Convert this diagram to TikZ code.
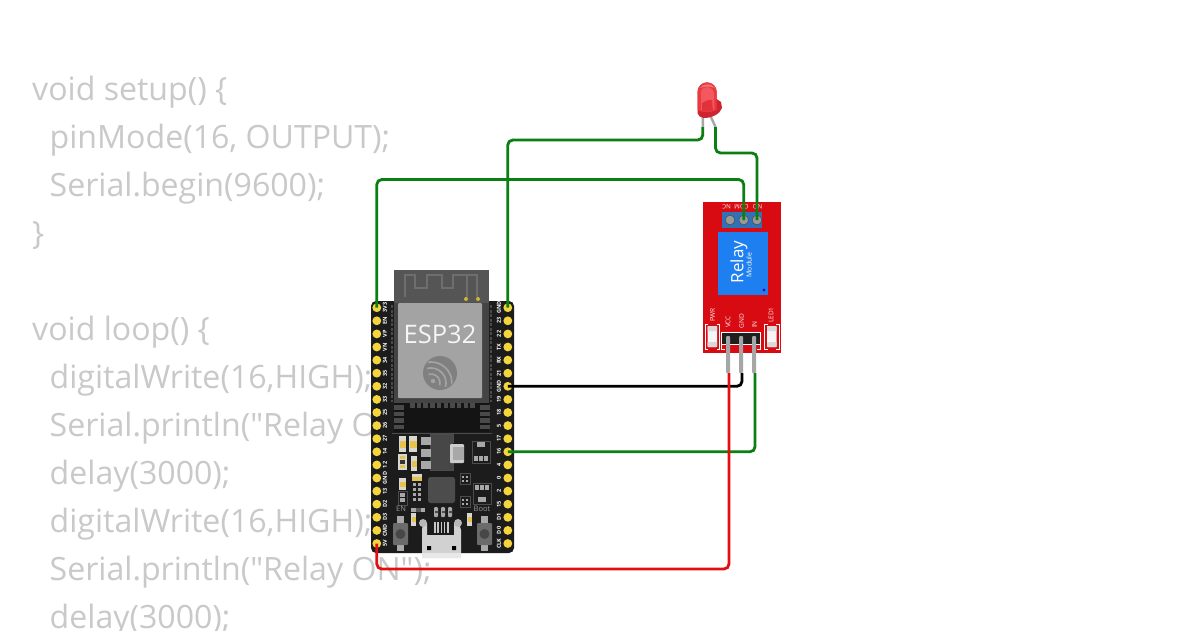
\documentclass[tikz,border=0pt]{standalone}
\usepackage{fontspec}
\setmainfont{Open Sans}
\newfontfamily\codefont{Open Sans}
\definecolor{codegray}{HTML}{C9C9C9}
\definecolor{wgreen}{HTML}{0A7F12}
\definecolor{wred}{HTML}{E01010}
\definecolor{pinyel}{HTML}{F4D63C}
\definecolor{relred}{HTML}{D80A12}
\definecolor{relblue}{HTML}{1E7FF0}
\definecolor{termblue}{HTML}{2F72B8}
\definecolor{brd}{HTML}{1C1C1C}
\definecolor{modout}{HTML}{555555}
\definecolor{metal}{HTML}{A3A3A3}
\definecolor{padgr}{HTML}{A8A8A8}
\definecolor{padd}{HTML}{4A4A4A}
\definecolor{smdy}{HTML}{E6C24E}
\definecolor{smdw}{HTML}{D8D8D0}
\definecolor{ledA}{HTML}{EA3A40}
\definecolor{ledB}{HTML}{F2585E}
\definecolor{ledC}{HTML}{CE2430}
\definecolor{ledD}{HTML}{E03238}
\newcommand{\fs}[1]{\fontsize{#1}{#1}\selectfont}
\tikzset{
  x=1pt,y=-1pt,
  code/.style={anchor=base west,inner sep=0pt,text=codegray,font=\codefont\fs{32.1}},
  pinlabel/.style={rotate=90,inner sep=0pt,text=white,font=\fs{5.5}\bfseries},
  rellabel/.style={rotate=90,inner sep=0pt,text=white!92!red,font=\fs{6.5}},
  wire/.style={line width=2.8pt,rounded corners=5pt},
}
% SMD part: white ends, yellow centre
\newcommand{\smdv}[4]{\fill[smdw] (#1,#2) rectangle (#3,#4);
  \fill[smdy] (#1+0.5,{#2+0.3*(#4-#2)}) rectangle (#3-0.5,{#2+0.72*(#4-#2)});}
\newcommand{\rct}[5]{\fill[#1] (#2,#3) rectangle (#4,#5);}
\begin{document}
\begin{tikzpicture}
\useasboundingbox (0,0) rectangle (1200,630);
\fill[white] (0,0) rectangle (1200,630);
% ---------- code text
\begin{scope}
\clip (0,0) rectangle (1200,630);
\node[code] (c1) at (32,100) {void setup() \{};
\node[code] (c2) at (49.5,148) {pinMode(16, OUTPUT);};
\node[code] (c3) at (49.5,196) {Serial.begin(9600);};
\node[code] (c4) at (32,244) {\}};
\node[code] (c5) at (32,340) {void loop() \{};
\node[code] (c6) at (49.5,388) {digitalWrite(16,HIGH);};
\node[code] (c7) at (49.5,436) {Serial.println("Relay ON");};
\node[code] (c8) at (49.5,484) {delay(3000);};
\node[code] (c9) at (49.5,532) {digitalWrite(16,HIGH);};
\node[code] (c10) at (49.5,580) {Serial.println("Relay ON");};
\node[code] (c11) at (49.5,628) {delay(3000);};
\end{scope}
% ---------- ESP32 board
\fill[brd,rounded corners=5pt] (371,301) rectangle (514,553);
\draw[padd,line width=1.6pt,dash pattern=on 3pt off 1.5pt] (392,305) -- (392,402) (491,305) -- (491,402);
% module
\fill[modout] (394,270) rectangle (489,303);
\fill[modout!80!black] (394,303) rectangle (489,403);
\fill[black!92] (394,403) rectangle (489,432);
\fill[metal,rounded corners=1pt] (398,303) rectangle (482,398);
\draw[gray!60!modout,line width=1.2pt] (405,297) -- (405,275) -- (415,275) -- (415,288) -- (427,288) -- (427,275) -- (442,275) -- (442,288) -- (453,288) -- (453,275) -- (477,275) -- (477,297) (467,275) -- (467,297);
\fill[pinyel!85!black] (466,299) circle (2) (478,299) circle (2);
\node[inner sep=0pt,text=white!92!gray,font=\fs{25.5}] (esp) at (440,334) {ESP32};
% espressif logo
\fill[black!50] (440,373) circle (17);
\begin{scope}
\clip (440,373) circle (16);
\foreach \r in {9,15,21} {
  \draw[metal,line width=1.7pt] (431,383) ++(-105:\r) arc[start angle=-105,end angle=15,radius=\r];
}
\end{scope}
\fill[metal] (433,381) circle (2.2);
% shield pads
\foreach \i in {0,...,9} {\fill[padd] ({410+\i*6.7},403) rectangle ({414.5+\i*6.7},408);}
\foreach \yy in {405,411.5,418,424.5} {
  \fill[padd] (394,\yy) rectangle (404,\yy+4.5);
  \fill[padd] (480,\yy) rectangle (490,\yy+4.5);
}
\draw[gray!60!black,line width=.5pt] (392,433) -- (492,433);
% regulator
\fill[black!72] (430,434) rectangle (453,470);
\draw[gray!60!black,line width=.5pt] (430,434) -- (453,434) -- (453,443) (453,463) -- (453,470) -- (430,470);
\rct{padgr}{421}{437}{431}{445}
\rct{padgr}{421}{449}{431}{457}
\rct{padgr}{421}{461}{431}{469}
\fill[black!20,rounded corners=1pt] (450,444) rectangle (464,463);
\fill[padgr] (453,447) rectangle (464,460);
% SMDs
\smdv{399}{436}{406}{452}
\smdv{409}{436}{417}{452}
\smdv{411}{456}{417}{471}
\fill[smdw] (398,454) rectangle (407,470);
\rct{smdy}{400}{456}{405}{459}
\rct{black!80}{400}{460}{405}{464}
\rct{smdy}{400}{465}{405}{468}
% SOT top right
\draw[gray!60!black,line width=.5pt] (472,441) rectangle (490,463);
\rct{padgr}{477}{442}{485}{447}
\foreach \xx in {474,479,484} {\rct{padgr}{\xx}{456}{\xx+3.5}{461}}
% lower-left parts
\smdv{399}{478}{406}{490}
\foreach \yy in {493,498} {\rct{padgr}{400}{\yy}{405}{\yy+3.5}}
\draw[gray!60!black,line width=.4pt] (398,491) rectangle (407,505);
\rct{smdw}{412}{474}{422}{477}
\rct{smdy}{412}{477}{422}{481}
\foreach \yy in {483,488,493,498} {
  \rct{padgr}{413}{\yy}{416}{\yy+3}
  \rct{padgr}{418}{\yy}{421}{\yy+3}
}
\fill[black!70,rounded corners=2.5pt] (428,477) rectangle (455,503);
\draw[gray!60!black,line width=.4pt] (460,473) rectangle (470,484);
\foreach \yy in {476,480} {\rct{padgr}{462}{\yy}{464}{\yy+2}\rct{padgr}{466}{\yy}{468}{\yy+2}}
\draw[gray!60!black,line width=.4pt] (460,496) rectangle (470,507);
\foreach \yy in {499,503} {\rct{padgr}{462}{\yy}{464}{\yy+2}\rct{padgr}{466}{\yy}{468}{\yy+2}}
\draw[gray!60!black,line width=.5pt] (473,483) rectangle (491,504);
\foreach \xx in {475,480,485} {\rct{padgr}{\xx}{485}{\xx+3.5}{490}}
\rct{padgr}{478}{497}{486}{502}
\node[inner sep=0pt,text=black!40,font=\fs{7.5}] (en) at (401,509) {EN};
\node[inner sep=0pt,text=black!40,font=\fs{7.5}] (boot) at (482,509) {Boot};
\rct{padgr}{411}{508}{416}{512}
\rct{black!65}{416}{508}{421}{512}
\rct{padgr}{421}{508}{425}{512}
\foreach \xx in {434,441,448} {\fill[padgr,rounded corners=1pt] (\xx,507) rectangle (\xx+4,517);\rct{black!70}{\xx+0.5}{511}{\xx+3.5}{513}}
\smdv{411}{513}{416}{526}
\smdv{467}{513}{472}{526}
% buttons
\foreach \bx in {393,477} {
  \rct{padgr}{\bx+4}{516}{\bx+11}{523}
  \rct{padgr}{\bx+4}{544}{\bx+11}{551}
  \fill[black!58,rounded corners=1pt] (\bx,523) rectangle (\bx+15,545);
  \fill[black!72] (\bx+7.5,534) circle (5);
}
% USB
\fill[black!18] (423,523) -- (427,523) -- (427,535) -- (454,535) -- (454,523) -- (459,523) -- (461,530) -- (461,558) -- (422,558) -- (422,530) -- cycle;
\fill[black!28] (423,523) circle (4) (458,523) circle (4);
\fill[black!9] (422,553) rectangle (461,558);
\fill[black] (427,546) rectangle (431,550) (452,546) rectangle (456,550);
\foreach \i in {0,...,4} {\rct{black!22}{{434+\i*3.3}}{522}{{435.5+\i*3.3}}{533}}
% pins
\foreach \lab [count=\n from 0] in {3V3,EN,VP,VN,34,35,32,33,25,26,27,14,12,GND,13,D2,D3,CMD,5V} {
  \coordinate (L\n) at (376.8,{307.7+\n*13.1});
  \fill[pinyel] (L\n) circle (4.4);
  \node[pinlabel] (LT\n) at (385,{307.7+\n*13.1}) {\lab};
}
\foreach \lab [count=\n from 0] in {GND,23,22,TX,RX,21,GND,19,18,5,17,16,4,0,2,15,D1,D0,CLK} {
  \coordinate (R\n) at (507.8,{307.7+\n*13.1});
  \fill[pinyel] (R\n) circle (4.4);
  \node[pinlabel] (RT\n) at (499,{307.7+\n*13.1}) {\lab};
}
% ---------- Relay module
\fill[relred] (703,201.5) rectangle (781,353);
\fill[termblue] (722,212) rectangle (762,228);
\foreach \nm/\xx/\lx/\lab in {NC/730/726.5/NC,COM/743.7/741.5/COM,NO/757/757.5/NO} {
  \node[inner sep=0pt,text=white!92!red,rotate=180,font=\fs{6.2}] (t\nm) at (\lx,206.5) {\lab};
  \coordinate (s\nm) at (\xx,220);
  \fill[gray!80!white] (s\nm) circle (4.8);
  \draw[gray!50!black,line width=.4pt] (s\nm) circle (4.8);
}
\fill[relblue] (717.5,232) rectangle (768,295);
\fill[violet!60!blue] (764,290) circle (1.6);
\node[inner sep=0pt,rotate=90,text=white,font=\fs{17}] (relay) at (739,262) {Relay};
\node[inner sep=0pt,rotate=90,text=white,font=\fs{7}] (module) at (749,265) {Module};
\node[rellabel] (pwr) at (712.5,315) {PWR};
\node[rellabel] (vcc) at (728,322) {VCC};
\node[rellabel] (gnd) at (741.5,321) {GND};
\node[rellabel] (in) at (754.5,324.5) {IN};
\node[rellabel] (led) at (771,315) {LED1};
\foreach \lx in {705,764.5} {
  \draw[white,line width=1pt] (\lx+3,324) -- (\lx,324) -- (\lx,349) -- (\lx+3,349)
     (\lx+11.5,324) -- (\lx+14.5,324) -- (\lx+14.5,349) -- (\lx+11.5,349);
  \fill[white!92!gray,rounded corners=1pt] (\lx+2.5,326) rectangle (\lx+12,347);
  \fill[gray!30!white] (\lx+2.5,326) rectangle (\lx+12,331) (\lx+2.5,342) rectangle (\lx+12,347);
}
\draw[white,line width=1pt,fill=black!88] (721.5,332.5) rectangle (760.5,344);
\draw[white,line width=1pt] (721.5,344) -- (721.5,349.5) -- (725,349.5) (760.5,344) -- (760.5,349.5) -- (757,349.5);
\foreach \nm/\xx in {pv/728,pg/741,pi/754} {
  \fill[gray!70!white,rounded corners=1pt] (\xx-2,336) rectangle (\xx+2,373);
  \coordinate (\nm) at (\xx+1,373);
}
% ---------- LED
\coordinate (ledK) at (702.8,127);
\coordinate (ledN) at (715.5,127);
\draw[gray!70!white,line width=2.4pt] (703,114) -- (ledK);
\draw[gray!70!white,line width=2.4pt] (710.5,116) -- (ledN);
\fill[ledC] (697.5,92) arc[start angle=180,end angle=360,radius=9.6] -- (716.7,99) -- (721,102) -- (722,108) .. controls (720,114) and (712,118) .. (704,118) .. controls (700,117) and (698,116) .. (697.5,113) -- cycle;
\fill[ledA] (697.5,92) arc[start angle=180,end angle=360,radius=9.6] -- (716.7,110) .. controls (710,113) and (703,113) .. (697.5,110) -- cycle;
\fill[ledB] (701,110) -- (701,93) .. controls (701,85) and (712,85) .. (714,93) -- (714,110) -- cycle;
\fill[ledD] (702,111) -- (702,103) -- (708,100) -- (712,100) -- (713,111) -- cycle;
\fill[white,opacity=.3] (700,88) .. controls (704,83) and (711,83) .. (715,88) .. controls (710,86) and (705,86) .. (700,88) -- cycle;
% ---------- wires
\coordinate (w1) at (0,179.5);
\coordinate (w2) at (0,140);
\coordinate (w3) at (0,153);
\coordinate (w4) at (0,569);
\draw[wire,wgreen] (L0) -- (L0 |- w1) -- (sCOM |- w1) -- (sCOM);
\draw[wire,wgreen] (R0) -- (R0 |- w2) -- (ledK |- w2) -- (ledK);
\draw[wire,wgreen] (ledN) -- (ledN |- w3) -- (sNO |- w3) -- (sNO);
\draw[wire,black] (R6) -- (R6 -| pg) -- (pg);
\draw[wire,wgreen] (R11) -- (R11 -| pi) -- (pi);
\draw[wire,wred] (L18) -- (L18 |- w4) -- (pv |- w4) -- (pv);
\end{tikzpicture}
\end{document}
